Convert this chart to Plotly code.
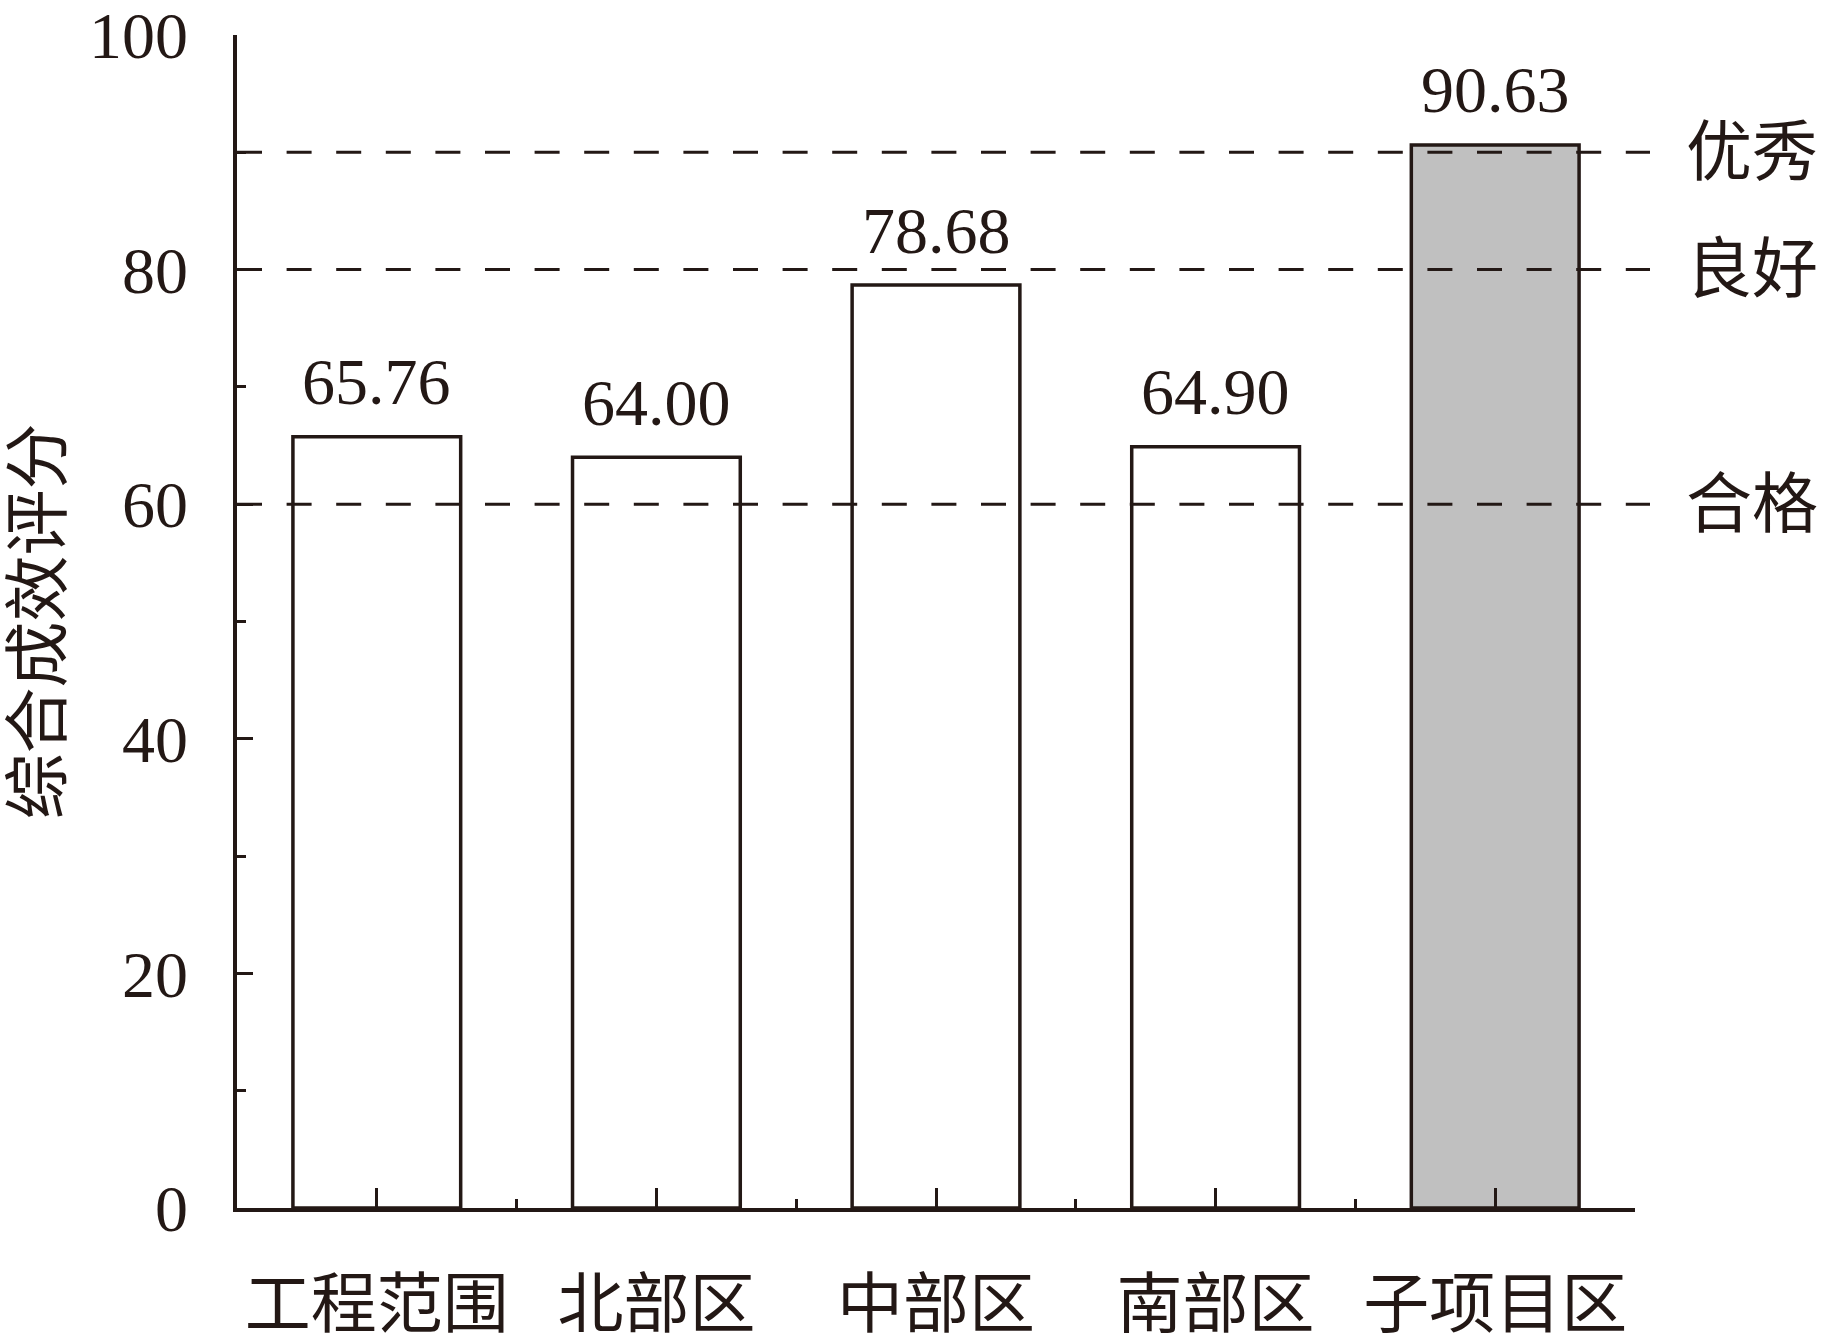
import plotly.graph_objects as go

# ---- data ----
categories = ["工程范围", "北部区", "中部区", "南部区", "子项目区"]
scores = [65.76, 64.00, 78.68, 64.90, 90.63]
score_labels = ["65.76", "64.00", "78.68", "64.90", "90.63"]
grade_levels = [90, 80, 60]
grade_names = ["优秀", "良好", "合格"]
y_ticks = [0, 20, 40, 60, 80, 100]
y_title = "综合成效评分"

# ---- style ----
INK = "#231815"
FONT = "Liberation Serif, 'Noto Sans CJK SC', serif"
FS = 66
bar_fills = ["#FFFFFF", "#FFFFFF", "#FFFFFF", "#FFFFFF", "#C0C0C0"]

W, H = 1822, 1343
L, R, T, B = 237, 187, 35, 135
plot_w = W - L - R

x_pos = list(range(len(categories)))

fig = go.Figure()
fig.add_trace(go.Bar(
    x=x_pos, y=scores, width=0.6,
    marker=dict(color=bar_fills, line=dict(color=INK, width=3.5)),
    showlegend=False, hoverinfo="skip",
))

# value labels
for xi, v, lab in zip(x_pos, scores, score_labels):
    fig.add_annotation(x=xi, y=v, text=lab, showarrow=False,
                       xanchor="center", yanchor="middle", yshift=55,
                       font=dict(family=FONT, size=FS, color=INK))

# grade reference lines and labels
line_end = (1650 - L) / plot_w
for g, name in zip(grade_levels, grade_names):
    fig.add_shape(type="line", xref="paper", yref="y",
                  x0=0, x1=line_end, y0=g, y1=g,
                  line=dict(color=INK, width=3, dash="25px,24.6px"),
                  layer="above")
    fig.add_annotation(xref="paper", yref="y", x=(1819 - L) / plot_w, y=g,
                       text=name, showarrow=False, xanchor="right", yanchor="middle",
                       borderpad=0,
                       font=dict(family=FONT, size=FS, color=INK))

# y-axis title
fig.add_annotation(xref="paper", yref="paper", x=(38 - L) / plot_w, y=0.5,
                   text=y_title, textangle=-90, showarrow=False,
                   xanchor="center", yanchor="middle",
                   font=dict(family=FONT, size=FS, color=INK))

fig.update_xaxes(
    range=[-0.5, len(categories) - 0.5],
    tickvals=x_pos, ticktext=categories,
    ticks="inside", ticklen=20, tickwidth=3, tickcolor=INK,
    minor=dict(tick0=0.5, dtick=1, ticks="inside", ticklen=9, tickwidth=3, tickcolor=INK),
    showline=True, linecolor=INK, linewidth=3.5,
    showgrid=False, zeroline=False,
    tickfont=dict(family=FONT, size=FS, color=INK),
    ticklabelstandoff=36,
    ticklabeloverflow="allow",
    automargin=False,
)
fig.update_yaxes(
    range=[0, 100],
    tickvals=y_ticks, ticktext=[str(t) for t in y_ticks],
    ticks="inside", ticklen=16, tickwidth=3, tickcolor=INK,
    minor=dict(dtick=10, ticks="inside", ticklen=9, tickwidth=3, tickcolor=INK),
    showline=True, linecolor=INK, linewidth=3.5,
    showgrid=False, zeroline=False,
    tickfont=dict(family=FONT, size=FS, color=INK),
    ticklabelstandoff=32,
    ticklabeloverflow="allow",
    automargin=False,
)

fig.update_layout(
    width=W, height=H,
    margin=dict(l=L, r=R, t=T, b=B, pad=0, autoexpand=False),
    plot_bgcolor="white", paper_bgcolor="white",
    bargap=0.4,
)

fig.write_html("out.html", config={"displayModeBar": False},
               post_script="document.body.style.margin='0';")
